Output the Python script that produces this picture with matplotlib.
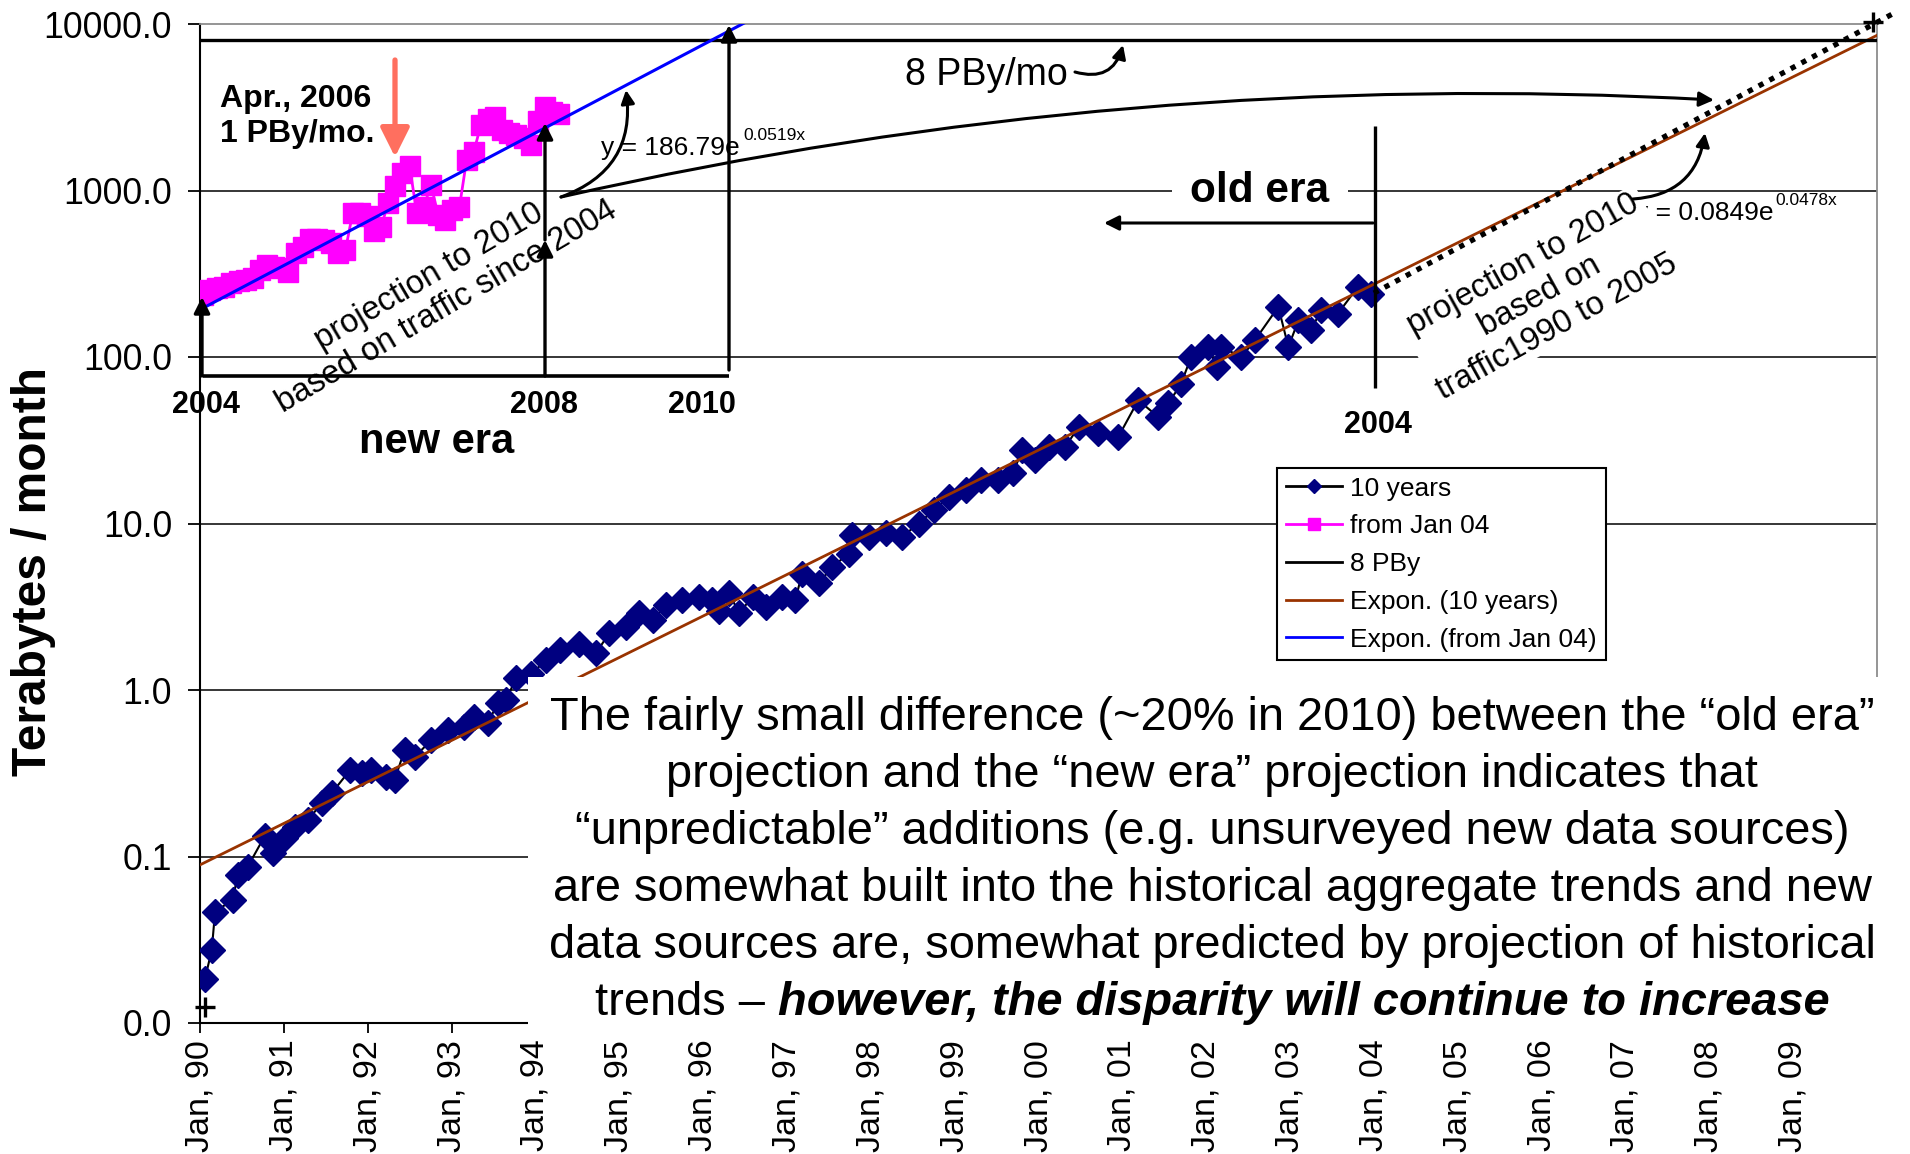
import numpy as np
import matplotlib.pyplot as plt
import matplotlib.ticker as mticker
import matplotlib.transforms as mtransforms
from matplotlib.lines import Line2D
from matplotlib.patches import Rectangle

W, H = 1910, 1154

# Monthly traffic 1990-2004 (decimal year, TB / month)
years_10 = [1990.06, 1990.14, 1990.18, 1990.39, 1990.45, 1990.57, 1990.77, 1990.87,
            1991.01, 1991.13, 1991.29, 1991.45, 1991.57, 1991.79, 1991.93,
            1992.04, 1992.22, 1992.32, 1992.44, 1992.56, 1992.76, 1992.96,
            1993.15, 1993.27, 1993.43, 1993.55, 1993.65, 1993.77, 1993.95,
            1994.13, 1994.29, 1994.52, 1994.72, 1994.88,
            1995.08, 1995.24, 1995.40, 1995.56, 1995.75, 1995.95,
            1996.11, 1996.19, 1996.31, 1996.43, 1996.59, 1996.75, 1996.94,
            1997.10, 1997.18, 1997.38, 1997.54, 1997.74, 1997.78, 1997.98,
            1998.18, 1998.37, 1998.57, 1998.75, 1998.93,
            1999.13, 1999.32, 1999.52, 1999.70, 1999.80, 1999.96,
            2000.12, 2000.32, 2000.48, 2000.71, 2000.95,
            2001.19, 2001.43, 2001.55, 2001.70, 2001.82,
            2002.02, 2002.13, 2002.18, 2002.42, 2002.58, 2002.86, 2002.98,
            2003.10, 2003.25, 2003.37, 2003.57, 2003.81, 2003.96]
tb_10 = [0.0185, 0.0274, 0.0467, 0.0548, 0.0775, 0.087, 0.132, 0.105,
         0.13, 0.151, 0.166, 0.209, 0.24, 0.331, 0.317,
         0.33, 0.30, 0.287, 0.436, 0.397, 0.50, 0.575,
         0.60, 0.69, 0.63, 0.83, 0.87, 1.18, 1.25,
         1.51, 1.74, 1.90, 1.66, 2.19,
         2.40, 2.90, 2.63, 3.24, 3.47, 3.63,
         3.47, 3.00, 3.80, 2.90, 3.63, 3.17, 3.63,
         3.47, 5.0, 4.37, 5.5, 6.6, 8.5, 8.3,
         8.8, 8.3, 10.0, 12.0, 14.4,
         15.9, 18.3, 18.3, 20.0, 27.7, 24.0,
         29, 29, 38, 35, 33,
         55, 43.6, 52.7, 69, 100,
         115, 87, 115, 100, 126, 200, 115,
         166, 145, 191, 182, 264, 240]

# Monthly traffic since Jan 2004 (month 1 = Jan 04)
months_04 = list(range(1, 52))
tb_04 = [236, 253, 258, 265, 278, 285, 290, 297, 333, 357,
         349, 341, 325, 420, 460, 513, 513, 505, 484, 420,
         440, 731, 731, 700, 575, 607, 840, 1057, 1271, 1400,
         731, 800, 1080, 715, 666, 760, 800, 1528, 1700, 2480,
         2700, 2750, 2300, 2208, 2160, 2080, 1870, 2600, 3192, 2980,
         2900]

# Exponential fits printed on the chart, y = a * exp(b * x), x = month number
fit_10_a, fit_10_b = 0.0849, 0.0478     # x = 1 at Jan 1990
fit_04_a, fit_04_b = 186.79, 0.0519     # x = 1 at Jan 2004

cap_tb = 8000                            # 8 PBy / month
proj_years = [2004.0, 2010.2]            # old-era projection
proj_tb = [242, 11600]
corner_years = [1990.06, 2009.95]
corner_tb = [0.0125, 10300]

ytick_vals = [0.01, 0.1, 1, 10, 100, 1000, 10000]
ytick_labels = ['0.0', '0.1', '1.0', '10.0', '100.0', '1000.0', '10000.0']
xtick_years = list(range(1990, 2010))
xtick_labels = ['Jan, %02d' % (y % 100) for y in xtick_years]

NAVY, MAGENTA, BROWN, BLUE = '#000080', '#FF00FF', '#993300', '#0000FF'

plt.rcParams['font.family'] = ['Liberation Sans', 'DejaVu Sans']

fig = plt.figure(figsize=(W / 100, H / 100), dpi=100)
fig.patch.set_facecolor('white')

# image pixel coordinates, origin at the top-left corner
pix = mtransforms.Affine2D().scale(1 / W, -1 / H).translate(0, 1) + fig.transFigure


def seg(axes, xs, ys, lw=2.4, color='black', z=5):
    axes.plot(xs, ys, transform=pix, color=color, lw=lw, clip_on=False,
              solid_capstyle='butt', zorder=z)


def arrow(axes, tail, tip, lw=2.4, ms=24, color='black', rad=0.0, z=5):
    axes.annotate('', xy=tip, xytext=tail, xycoords=pix, textcoords=pix,
                  arrowprops=dict(arrowstyle='-|>,head_length=0.4,head_width=0.2',
                                  lw=lw, color=color, mutation_scale=ms,
                                  shrinkA=0, shrinkB=0,
                                  connectionstyle=f'arc3,rad={rad}'),
                  annotation_clip=False, zorder=z)


def label(axes, x, y, s, **kw):
    kw.setdefault('clip_on', False)
    return axes.text(x, y, s, transform=pix, **kw)


# ---------------- main axes ----------------
ax = fig.add_axes([200 / W, 1 - 1023 / H, 1677 / W, 999 / H])
ax.set_yscale('log')
ax.set_xlim(1990, 2010)
ax.set_ylim(0.01, 10000)

for v in ytick_vals[1:-1]:
    ax.axhline(v, color='black', lw=1.1, zorder=1)

ax.set_yticks(ytick_vals)
ax.set_yticklabels(ytick_labels)
ax.yaxis.set_minor_locator(mticker.NullLocator())
ax.set_xticks(xtick_years)
ax.set_xticklabels(xtick_labels, rotation=90, ha='center', va='top')
ax.tick_params(axis='y', labelsize=25.7, length=9, width=1.3, pad=11)
ax.tick_params(axis='x', labelsize=24.5, length=7, width=1.3, pad=5)
for side in ('top', 'right'):
    ax.spines[side].set_color('#8c8c8c')
    ax.spines[side].set_linewidth(1.3)
for side in ('left', 'bottom'):
    ax.spines[side].set_linewidth(1.5)

ax.plot(years_10, tb_10, color='black', lw=1.5, marker='D', ms=13,
        mfc=NAVY, mec=NAVY, zorder=3)
trend_m = np.arange(1, 242)
ax.plot(1990 + (trend_m - 1) / 12, fit_10_a * np.exp(fit_10_b * trend_m),
        color=BROWN, lw=2.0, zorder=4)
ax.plot([1990, 2010], [cap_tb, cap_tb], color='black', lw=2.4, zorder=4)
ax.plot(proj_years, proj_tb, color='black', lw=3.8, ls=(0, (1.0, 1.3)),
        clip_on=False, zorder=4)
ax.plot(corner_years, corner_tb, ls='none', marker='+', ms=14, mew=2.4,
        color='black', clip_on=False, zorder=4)

fig.text(34 / W, 1 - 572 / H, 'Terabytes / month', rotation=90, ha='center',
         va='center', fontsize=34.5, fontweight='bold')

# old era annotations
label(ax, 1260, 202, 'old era', ha='center', va='baseline', fontsize=30.5,
      fontweight='bold', zorder=4.5,
      bbox=dict(facecolor='white', edgecolor='none', pad=13))
arrow(ax, (1373, 223), (1104, 223), lw=2.2, ms=22)
seg(ax, [1375, 1375], [126, 388], lw=2.4)
label(ax, 1378, 433, '2004', ha='center', va='baseline', fontsize=22,
      fontweight='bold')

label(ax, 1773, 220, 'y = 0.0849e', ha='right', va='baseline', fontsize=19,
      zorder=3)
label(ax, 1775, 205, '0.0478x', ha='left', va='baseline', fontsize=12.5, zorder=3)
label(ax, 1540, 296, 'projection to 2010\nbased on\ntraffic1990 to 2005',
      rotation=29, ha='center', va='center', rotation_mode='anchor',
      multialignment='center', fontsize=23.5, linespacing=1.2, zorder=3.5,
      bbox=dict(facecolor='white', edgecolor='none', pad=1))
arrow(ax, (1633, 199), (1705, 133), lw=2.2, ms=20, rad=0.4)

# 8 PBy label and the long link from the new-era projection
label(ax, 986, 85, '8 PBy/mo', ha='center', va='baseline', fontsize=27)
arrow(ax, (1075, 72), (1123, 45), lw=2.2, ms=20, rad=0.5)
arrow(ax, (561, 197), (1714, 100), lw=2.2, ms=22, rad=-0.07)
arrow(ax, (561, 197), (626, 90), lw=2.2, ms=20, rad=0.4)
label(ax, 601, 155, 'y = 186.79e', ha='left', va='baseline', fontsize=19)
label(ax, 743, 140, '0.0519x', ha='left', va='baseline', fontsize=12.5)

# legend
handles = [
    Line2D([], [], color='black', lw=2, marker='D', ms=7.5, mfc=NAVY, mec=NAVY),
    Line2D([], [], color=MAGENTA, lw=2, marker='s', ms=8.5, mfc=MAGENTA, mec=MAGENTA),
    Line2D([], [], color='black', lw=2),
    Line2D([], [], color=BROWN, lw=2),
    Line2D([], [], color=BLUE, lw=2),
]
names = ['10 years', 'from Jan 04', '8 PBy', 'Expon. (10 years)', 'Expon. (from Jan 04)']
leg = ax.legend(handles, names, loc='upper left',
                bbox_to_anchor=(1277 / W, 1 - 468 / H), bbox_transform=fig.transFigure,
                frameon=True, fancybox=False, framealpha=1, edgecolor='black',
                fontsize=19, handlelength=2.15, handletextpad=0.3,
                labelspacing=0.52, borderpad=0.33, borderaxespad=0)
leg.get_frame().set_linewidth(1.5)
leg.set_zorder(8)

# commentary box over the lower right
ax.add_patch(Rectangle((528, 677), 1369, 359, transform=pix, facecolor='white',
                       edgecolor='none', zorder=6, clip_on=False))
body = ['The fairly small difference (~20% in 2010) between the \u201cold era\u201d',
        'projection and the \u201cnew era\u201d projection indicates that',
        '\u201cunpredictable\u201d additions (e.g. unsurveyed new data sources)',
        'are somewhat built into the historical aggregate trends and new',
        'data sources are, somewhat predicted by projection of historical']
fs_body = 33.8
for i, line in enumerate(body):
    label(ax, 1212, 730 + 57 * i, line, ha='center', va='baseline',
          fontsize=fs_body, zorder=7)
t1 = label(ax, 0, 730 + 57 * 5, 'trends \u2013', ha='left', va='baseline',
           fontsize=fs_body, zorder=7)
t2 = label(ax, 0, 730 + 57 * 5, 'however, the disparity will continue to increase',
           ha='left', va='baseline', fontsize=fs_body, fontweight='bold',
           fontstyle='italic', zorder=7)
renderer = fig.canvas.get_renderer()
w1 = t1.get_window_extent(renderer).width
w2 = t2.get_window_extent(renderer).width
gap = 0.28 * fs_body * 100 / 72
x0 = 1212 - (w1 + gap + w2) / 2
t1.set_x(x0)
t2.set_x(x0 + w1 + gap)

# ---------------- new-era inset (months since Jan 04) ----------------
ins = fig.add_axes(ax.get_position(), label='inset')
ins.set_axis_off()
ins.patch.set_visible(False)
ins.set_yscale('log')
ins.set_xlim(0.579, 235.95)
ins.set_ylim(0.01, 10000)

ins.plot(months_04, tb_04, color=MAGENTA, lw=2, marker='s', ms=15,
         mfc=MAGENTA, mec=MAGENTA, zorder=3)
fit_m = np.arange(1, 77.01, 0.25)
ins.plot(fit_m, fit_04_a * np.exp(fit_04_b * fit_m), color=BLUE, lw=2.2, zorder=4)

seg(ins, [203, 729], [376, 376], lw=2.6)
arrow(ins, (202, 376), (202, 297), lw=2.4, ms=24)
arrow(ins, (545, 376), (545, 240), lw=2.4, ms=24)
arrow(ins, (545, 240), (545, 123), lw=2.4, ms=24)
arrow(ins, (729, 370), (729, 25), lw=2.4, ms=24)
for x, s in [(206, '2004'), (544, '2008'), (702, '2010')]:
    label(ins, x, 413, s, ha='center', va='baseline', fontsize=22, fontweight='bold')
label(ins, 437, 453, 'new era', ha='center', va='baseline', fontsize=30,
      fontweight='bold')
label(ins, 220, 107, 'Apr., 2006', ha='left', va='baseline', fontsize=23,
      fontweight='bold')
label(ins, 220, 142, '1 PBy/mo.', ha='left', va='baseline', fontsize=23,
      fontweight='bold')
arrow(ins, (395, 60), (395, 157), lw=3.8, ms=44, color='#FF6F5F')
label(ins, 438, 292, 'projection to 2010\nbased on traffic since 2004',
      rotation=30.5, ha='center', va='center', rotation_mode='anchor',
      multialignment='center', fontsize=23.5, linespacing=1.15, zorder=2)

ax.set_xlim(1990, 2010)
ax.set_ylim(0.01, 10000)
ins.set_xlim(0.579, 235.95)
ins.set_ylim(0.01, 10000)

fig.savefig('out.png', dpi=100, facecolor='white')
